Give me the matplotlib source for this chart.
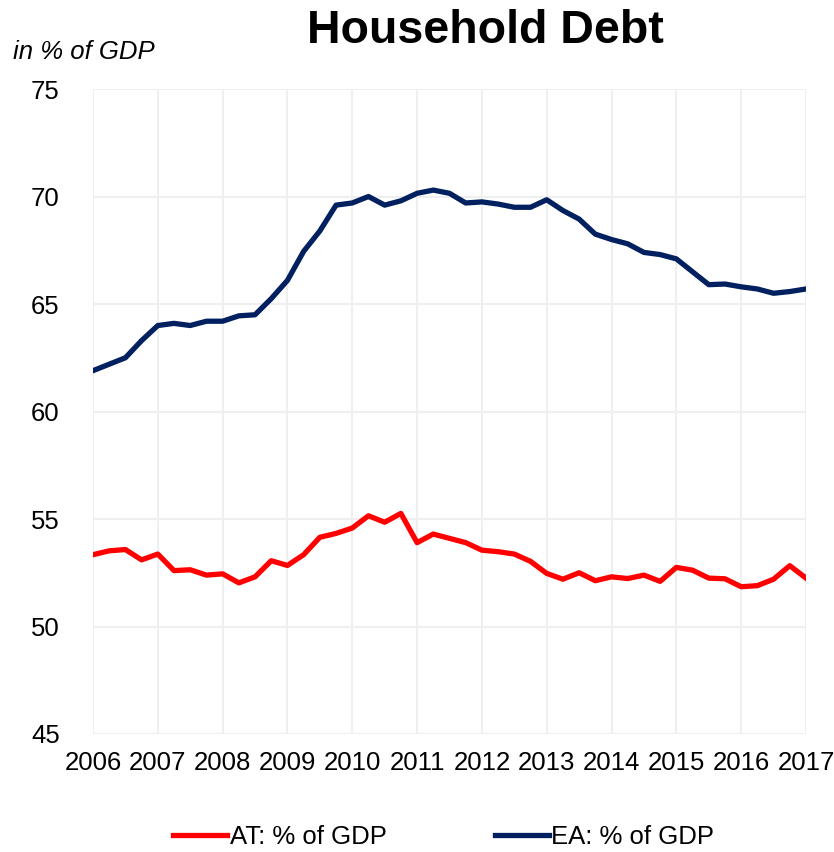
import matplotlib
matplotlib.use("Agg")
import matplotlib.pyplot as plt
import numpy as np

plt.rcParams['font.family'] = ['Liberation Sans', 'DejaVu Sans']

# quarterly observations, 2006Q1 .. 2017Q1
quarters = np.arange(2006, 2017.01, 0.25)
at_debt = [53.34, 53.52, 53.58, 53.10, 53.37, 52.60, 52.64, 52.39, 52.45, 52.03,
           52.31, 53.06, 52.84, 53.34, 54.15, 54.33, 54.58, 55.15, 54.85, 55.26,
           53.90, 54.30, 54.10, 53.90, 53.55, 53.48, 53.37, 53.03, 52.47, 52.20,
           52.50, 52.13, 52.31, 52.23, 52.39, 52.10, 52.75, 52.62, 52.25, 52.22,
           51.85, 51.90, 52.20, 52.83, 52.25]
ea_debt = [61.90, 62.20, 62.50, 63.30, 64.00, 64.10, 64.00, 64.20, 64.20, 64.45,
           64.50, 65.25, 66.10, 67.45, 68.40, 69.60, 69.70, 70.00, 69.60, 69.80,
           70.15, 70.30, 70.15, 69.70, 69.75, 69.65, 69.50, 69.50, 69.85, 69.35,
           68.95, 68.25, 68.00, 67.80, 67.40, 67.30, 67.10, 66.50, 65.90, 65.93,
           65.80, 65.70, 65.50, 65.58, 65.70]
year_ticks = list(range(2006, 2018))
y_ticks = [45, 50, 55, 60, 65, 70, 75]

fig = plt.figure(figsize=(8.34, 8.52), dpi=100)
ax = fig.add_axes([0.1115, 0.1385, 0.8549, 0.757])

ax.plot(quarters, at_debt, color='#ff0000', lw=3.8, label='AT: % of GDP',
        solid_joinstyle='round', zorder=3)
ax.plot(quarters, ea_debt, color='#002060', lw=3.8, label='EA: % of GDP',
        solid_joinstyle='round', zorder=3)

ax.set_xlim(2006, 2017)
ax.set_ylim(45, 75)
ax.set_xticks(year_ticks)
ax.set_yticks(y_ticks)
ax.tick_params(length=0, labelsize=18.5)
ax.tick_params(axis='y', pad=24)
ax.tick_params(axis='x', pad=12)
for s in ax.spines.values():
    s.set_visible(False)
ax.grid(True, color='#efefef', lw=1.5)
ax.set_axisbelow(True)

fig.text(0.582, 0.964, 'Household Debt', ha='center', va='center',
         fontsize=33.5, fontweight='bold')
fig.text(0.015, 0.939, 'in % of GDP', ha='left', va='center',
         fontsize=18.5, style='italic')

fig.legend(loc='center', bbox_to_anchor=(0.532, 0.018), ncol=2, frameon=False,
           fontsize=18.5, handlelength=2.1, handletextpad=0.1, columnspacing=4.2,
           borderpad=0.2)

fig.savefig('out.png', dpi=100)
